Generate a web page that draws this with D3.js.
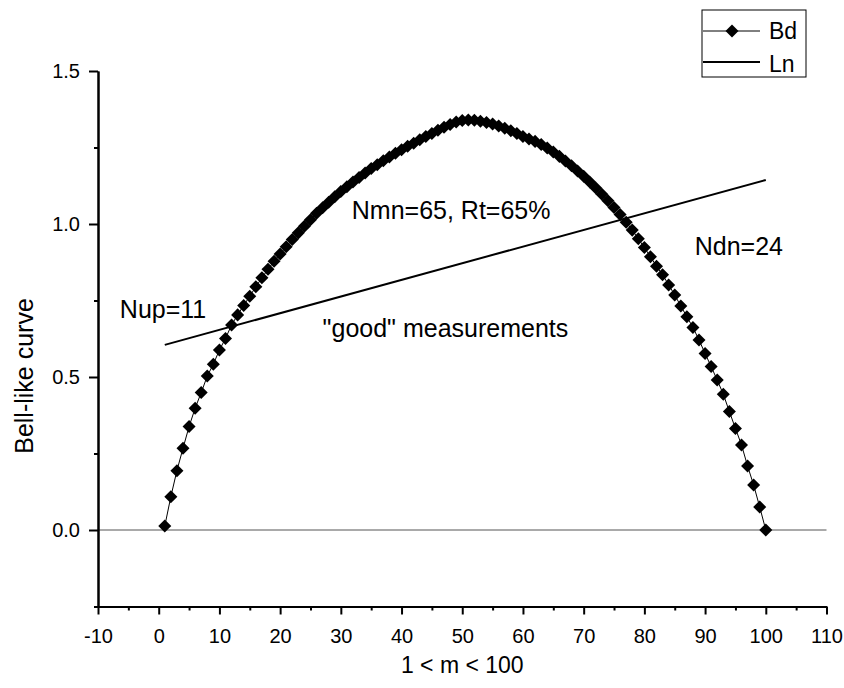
<!DOCTYPE html>
<html>
<head>
<meta charset="utf-8">
<script src="https://cdn.jsdelivr.net/npm/d3@7"></script>
<style>
  html, body { margin: 0; padding: 0; background: #fff; }
  svg text { font-family: Arial, "Liberation Sans", sans-serif; fill: #000; }
</style>
</head>
<body>
<svg id="chart" width="844" height="688"></svg>
<script>
// Bd series: value for m = 1 .. 100
const bdValues = [
  0.013, 0.109, 0.194, 0.267, 0.338, 0.398, 0.449, 0.503, 0.542, 0.588,
  0.626, 0.670, 0.703, 0.734, 0.764, 0.795, 0.824, 0.852, 0.878, 0.902,
  0.926, 0.949, 0.971, 0.993, 1.014, 1.035, 1.053, 1.071, 1.089, 1.106,
  1.122, 1.137, 1.152, 1.167, 1.181, 1.194, 1.207, 1.219, 1.231, 1.243,
  1.254, 1.264, 1.275, 1.286, 1.296, 1.306, 1.316, 1.325, 1.333, 1.338,
  1.340, 1.339, 1.336, 1.332, 1.327, 1.320, 1.313, 1.305, 1.296, 1.286,
  1.278, 1.270, 1.260, 1.248, 1.235, 1.221, 1.206, 1.190, 1.173, 1.156,
  1.137, 1.118, 1.097, 1.076, 1.054, 1.031, 1.006, 0.980, 0.952, 0.923,
  0.893, 0.862, 0.834, 0.801, 0.768, 0.732, 0.697, 0.662, 0.621, 0.577,
  0.534, 0.490, 0.444, 0.387, 0.332, 0.278, 0.209, 0.147, 0.075, 0.000
];

// Ln series: straight line through the two end points
const lnM = [1, 100];
const lnValues = [0.605, 1.144];

const xMajorTicks = [-10, 0, 10, 20, 30, 40, 50, 60, 70, 80, 90, 100, 110];
const xMinorTicks = [-5, 5, 15, 25, 35, 45, 55, 65, 75, 85, 95, 105];
const yMajorTicks = [0, 0.5, 1.0, 1.5];
const yMinorTicks = [-0.25, 0.25, 0.75, 1.25];

const legendItems = ["Bd", "Ln"];

const notes = [
  { text: "Nup=11", m: -6.4, v: 0.693 },
  { text: "Nmn=65, Rt=65%", m: 31.8, v: 1.016 },
  { text: "Ndn=24", m: 88.3, v: 0.899 },
  { text: "\"good\" measurements", m: 27.0, v: 0.632 }
];

const svg = d3.select("#chart");

const x = d3.scaleLinear().domain([-10, 110]).range([98, 826.5]);
const y = d3.scaleLinear().domain([-0.25, 1.5]).range([606.5, 71]);

const bdData = bdValues.map((v, i) => ({ m: i + 1, v }));
const lnData = lnM.map((m, i) => ({ m, v: lnValues[i] }));

// zero reference line
svg.append("line")
  .attr("x1", x(-10)).attr("x2", x(110))
  .attr("y1", y(0)).attr("y2", y(0))
  .attr("stroke", "#555")
  .attr("stroke-width", 1);

// axes
function styleAxis(g) {
  g.select(".domain").attr("stroke", "#000").attr("stroke-width", 2);
  g.selectAll(".tick line").attr("stroke", "#000").attr("stroke-width", 2);
  g.selectAll(".tick text").attr("font-size", 20).attr("font-family", "Arial, 'Liberation Sans', sans-serif");
}

svg.append("g")
  .attr("transform", `translate(0,${y(-0.25)})`)
  .call(d3.axisBottom(x).tickValues(xMinorTicks).tickSize(4).tickFormat("").tickSizeOuter(0))
  .call(styleAxis);

svg.append("g")
  .attr("transform", `translate(0,${y(-0.25)})`)
  .call(d3.axisBottom(x).tickValues(xMajorTicks).tickSize(8).tickPadding(14).tickFormat((d) => String(d)).tickSizeOuter(0))
  .call(styleAxis);

svg.append("g")
  .attr("transform", `translate(${x(-10)},0)`)
  .call(d3.axisLeft(y).tickValues(yMinorTicks).tickSize(4).tickFormat("").tickSizeOuter(0))
  .call(styleAxis);

svg.append("g")
  .attr("transform", `translate(${x(-10)},0)`)
  .call(d3.axisLeft(y).tickValues(yMajorTicks).tickSize(9).tickPadding(9).tickFormat(d3.format(".1f")).tickSizeOuter(0))
  .call(styleAxis);

// axis titles
svg.append("text")
  .attr("x", (x(-10) + x(110)) / 2)
  .attr("y", 673)
  .attr("text-anchor", "middle")
  .attr("font-size", 23)
  .text("1 < m < 100");

svg.append("text")
  .attr("transform", "translate(33,376) rotate(-90)")
  .attr("text-anchor", "middle")
  .attr("font-size", 25)
  .text("Bell-like curve");

// Ln line
svg.append("path")
  .datum(lnData)
  .attr("fill", "none")
  .attr("stroke", "#000")
  .attr("stroke-width", 2)
  .attr("d", d3.line().x((d) => x(d.m)).y((d) => y(d.v)));

// Bd connecting line
svg.append("path")
  .datum(bdData)
  .attr("fill", "none")
  .attr("stroke", "#000")
  .attr("stroke-width", 1)
  .attr("d", d3.line().x((d) => x(d.m)).y((d) => y(d.v)));

// Bd markers
const diamond = d3.symbol().type(d3.symbolDiamond2).size(108);
svg.append("g")
  .selectAll("path")
  .data(bdData)
  .join("path")
  .attr("d", diamond)
  .attr("transform", (d) => `translate(${x(d.m)},${y(d.v)})`)
  .attr("fill", "#000");

// annotations
svg.append("g")
  .selectAll("text")
  .data(notes)
  .join("text")
  .attr("x", (d) => x(d.m))
  .attr("y", (d) => y(d.v))
  .attr("font-size", 25)
  .text((d) => d.text);

// legend
const legend = svg.append("g").attr("transform", "translate(702,10)");
legend.append("rect")
  .attr("width", 104).attr("height", 67)
  .attr("fill", "#fff").attr("stroke", "#000").attr("stroke-width", 1);

legend.selectAll("text")
  .data(legendItems)
  .join("text")
  .attr("x", 67)
  .attr("y", (d, i) => 28.5 + i * 33.5)
  .attr("font-size", 23)
  .text((d) => d);

legend.append("line")
  .attr("x1", 1).attr("x2", 58).attr("y1", 21).attr("y2", 21)
  .attr("stroke", "#000").attr("stroke-width", 1);
legend.append("path")
  .attr("d", diamond)
  .attr("transform", "translate(30,21)")
  .attr("fill", "#000");
legend.append("line")
  .attr("x1", 1).attr("x2", 58).attr("y1", 52).attr("y2", 52)
  .attr("stroke", "#000").attr("stroke-width", 2);
</script>
</body>
</html>
